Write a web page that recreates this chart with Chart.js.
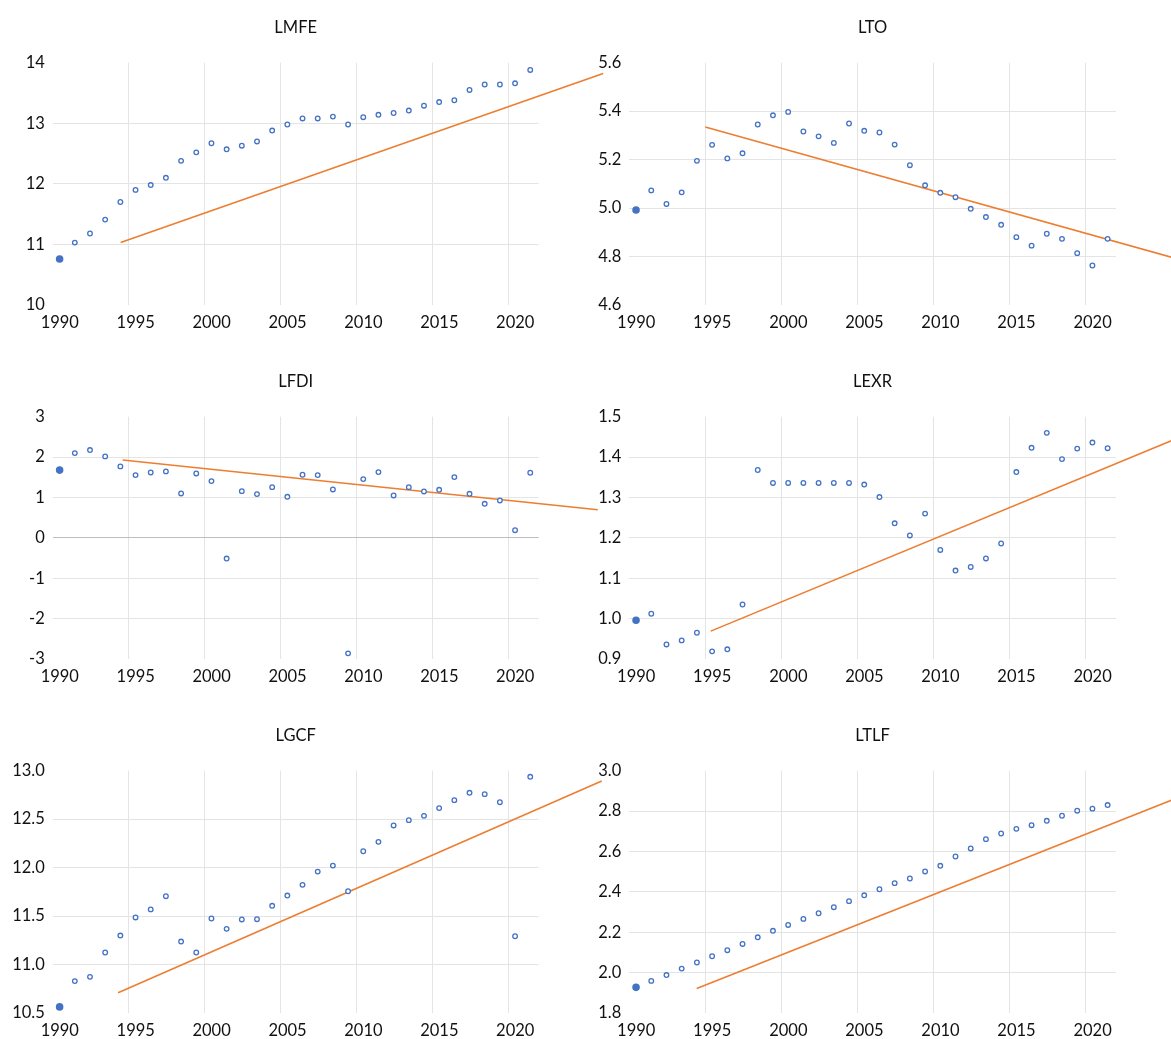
<!DOCTYPE html>
<html>
<head>
<meta charset="utf-8">
<script src="https://cdn.jsdelivr.net/npm/chart.js@4.4.1/dist/chart.umd.min.js"></script>
<style>
  html, body { margin: 0; padding: 0; background: #ffffff; overflow: hidden; }
  #board { position: relative; width: 1171px; height: 1039px; overflow: hidden; }
  #board canvas { position: absolute; }
</style>
</head>
<body>
<div id="board"></div>
<script>
// Annual observations, 1990-2021
const years = [1990, 1991, 1992, 1993, 1994, 1995, 1996, 1997, 1998, 1999, 2000, 2001,
               2002, 2003, 2004, 2005, 2006, 2007, 2008, 2009, 2010, 2011, 2012, 2013,
               2014, 2015, 2016, 2017, 2018, 2019, 2020, 2021];

const lmfe = [10.76, 11.03, 11.18, 11.41, 11.70, 11.90, 11.98, 12.10, 12.38, 12.52, 12.67, 12.57,
              12.63, 12.70, 12.88, 12.98, 13.08, 13.08, 13.11, 12.98, 13.10, 13.14, 13.17, 13.21,
              13.29, 13.35, 13.38, 13.55, 13.64, 13.64, 13.66, 13.88];

const lto = [4.992, 5.073, 5.017, 5.065, 5.195, 5.261, 5.205, 5.226, 5.345, 5.383, 5.397, 5.316,
             5.296, 5.269, 5.349, 5.319, 5.312, 5.262, 5.177, 5.094, 5.063, 5.045, 4.997, 4.963,
             4.931, 4.880, 4.845, 4.894, 4.873, 4.814, 4.763, 4.873];

const lfdi = [1.678, 2.099, 2.174, 2.017, 1.769, 1.554, 1.620, 1.645, 1.099, 1.595, 1.405, -0.512,
              1.157, 1.083, 1.256, 1.017, 1.562, 1.554, 1.198, -2.860, 1.455, 1.628, 1.050, 1.256,
              1.149, 1.190, 1.504, 1.091, 0.843, 0.926, 0.190, 1.612];

const lexr = [0.996, 1.012, 0.936, 0.946, 0.965, 0.919, 0.924, 1.035, 1.368, 1.336, 1.336, 1.336,
              1.336, 1.336, 1.336, 1.332, 1.301, 1.236, 1.206, 1.260, 1.170, 1.119, 1.128, 1.149,
              1.186, 1.363, 1.423, 1.460, 1.395, 1.421, 1.436, 1.422];

const lgcf = [10.563, 10.829, 10.873, 11.124, 11.299, 11.486, 11.569, 11.705, 11.237, 11.124, 11.475, 11.368,
              11.465, 11.468, 11.606, 11.712, 11.822, 11.959, 12.021, 11.756, 12.169, 12.266, 12.435, 12.490,
              12.534, 12.614, 12.696, 12.772, 12.758, 12.675, 11.292, 12.937];

const ltlf = [1.927, 1.959, 1.988, 2.020, 2.050, 2.081, 2.111, 2.142, 2.175, 2.207, 2.236, 2.266,
              2.294, 2.324, 2.354, 2.383, 2.413, 2.443, 2.466, 2.501, 2.529, 2.575, 2.615, 2.661,
              2.689, 2.712, 2.730, 2.752, 2.777, 2.802, 2.812, 2.830];

// Linear trend lines: [start, end] year and value
const lmfeTrendYears = [1994.47, 2026.25], lmfeTrend = [11.03, 13.82];
const ltoTrendYears  = [1995.00, 2026.20], ltoTrend  = [5.335, 4.787];
const lfdiTrendYears = [1994.60, 2025.90], lfdiTrend = [1.926, 0.695];
const lexrTrendYears = [1995.36, 2026.20], lexrTrend = [0.969, 1.449];
const lgcfTrendYears = [1994.30, 2026.16], lgcfTrend = [10.708, 12.893];
const ltlfTrendYears = [1994.44, 2026.20], ltlfTrend = [1.921, 2.870];

// x-axis tick labels
const xTicks = [1990, 1995, 2000, 2005, 2010, 2015, 2020];

// observations are dated mid-year
const MID_YEAR = 0.45;

const BLUE = '#4472C4';
const ORANGE = '#ED7D31';
const GRID = '#e4e4e4';
const ZERO = '#bdbdbd';
const TEXT = '#111111';
const FONT = '"Lato", "Carlito", "Open Sans", sans-serif';

Chart.defaults.font.family = FONT;
Chart.defaults.color = TEXT;

const panels = [
  { title: 'LMFE', values: lmfe, tx: lmfeTrendYears, ty: lmfeTrend, min: 10,  max: 14,  step: 1,   dec: 0, col: 0, row: 0 },
  { title: 'LTO',  values: lto,  tx: ltoTrendYears,  ty: ltoTrend,  min: 4.6, max: 5.6, step: 0.2, dec: 1, col: 1, row: 0 },
  { title: 'LFDI', values: lfdi, tx: lfdiTrendYears, ty: lfdiTrend, min: -3,  max: 3,   step: 1,   dec: 0, col: 0, row: 1 },
  { title: 'LEXR', values: lexr, tx: lexrTrendYears, ty: lexrTrend, min: 0.9, max: 1.5, step: 0.1, dec: 1, col: 1, row: 1 },
  { title: 'LGCF', values: lgcf, tx: lgcfTrendYears, ty: lgcfTrend, min: 10.5, max: 13, step: 0.5, dec: 1, col: 0, row: 2 },
  { title: 'LTLF', values: ltlf, tx: ltlfTrendYears, ty: ltlfTrend, min: 1.8, max: 3.0, step: 0.2, dec: 1, col: 1, row: 2 }
];

// column geometry: canvas left, canvas width, y-axis width, right padding
const columns = [
  { left: 0,   width: 610, axisW: 52.8, padR: 71.4 },
  { left: 585, width: 586, axisW: 44.2, padR: 55 }
];
const ROW_H = 354;

const board = document.getElementById('board');

panels.forEach(p => {
  const c = columns[p.col];
  const cv = document.createElement('canvas');
  cv.width = c.width;
  cv.height = ROW_H;
  cv.style.left = c.left + 'px';
  cv.style.top = (p.row * ROW_H) + 'px';
  cv.style.zIndex = String(p.col + 1);
  board.appendChild(cv);

  const points = years.map((yr, i) => ({ x: yr + MID_YEAR, y: p.values[i] }));
  const trend = p.tx.map((yr, i) => ({ x: yr, y: p.ty[i] }));

  new Chart(cv, {
    type: 'scatter',
    data: {
      datasets: [
        {
          data: points,
          pointStyle: 'circle',
          pointRadius: ctx => ctx.dataIndex === 0 ? 2.6 : 2.3,
          pointBorderWidth: ctx => ctx.dataIndex === 0 ? 2.4 : 1.3,
          pointBorderColor: BLUE,
          pointBackgroundColor: ctx => ctx.dataIndex === 0 ? BLUE : '#ffffff',
          showLine: false,
          order: 1
        },
        {
          type: 'line',
          data: trend,
          borderColor: ORANGE,
          borderWidth: 1.6,
          pointRadius: 0,
          fill: false,
          tension: 0,
          clip: false,
          order: 2
        }
      ]
    },
    options: {
      responsive: false,
      devicePixelRatio: 1,
      animation: false,
      events: [],
      layout: { padding: { left: 0, right: c.padR, top: 0, bottom: 0 } },
      plugins: {
        legend: { display: false },
        tooltip: { enabled: false },
        title: {
          display: true,
          text: p.title,
          fullSize: false,
          color: TEXT,
          font: { size: 16.5, weight: 'normal', family: FONT, lineHeight: 1.2 },
          padding: { top: 18.1, bottom: 24.8 }
        }
      },
      scales: {
        x: {
          type: 'linear',
          min: 1990,
          max: 2022,
          afterBuildTicks: s => { s.ticks = xTicks.map(v => ({ value: v })); },
          afterFit: s => { s.height = 49; },
          border: { display: false },
          grid: {
            drawTicks: false,
            color: ctx => ctx.index === 0 ? 'rgba(0,0,0,0)' : GRID,
            lineWidth: 1
          },
          ticks: {
            padding: 7.5,
            labelOffset: 7,
            maxRotation: 0,
            autoSkip: false,
            color: TEXT,
            font: { size: 16.5, family: FONT },
            callback: v => String(v)
          }
        },
        y: {
          type: 'linear',
          min: p.min,
          max: p.max,
          afterFit: s => { s.width = c.axisW; },
          border: { display: false },
          grid: {
            drawTicks: false,
            color: ctx => {
              const n = ctx.scale.ticks.length;
              if (ctx.index === 0 || ctx.index === n - 1) return 'rgba(0,0,0,0)';
              return Math.abs(ctx.tick.value) < 1e-9 ? ZERO : GRID;
            },
            lineWidth: 1
          },
          ticks: {
            stepSize: p.step,
            padding: 8,
            color: TEXT,
            font: { size: 16.5, family: FONT },
            callback: v => Number(v).toFixed(p.dec)
          }
        }
      }
    }
  });
});
</script>
</body>
</html>
